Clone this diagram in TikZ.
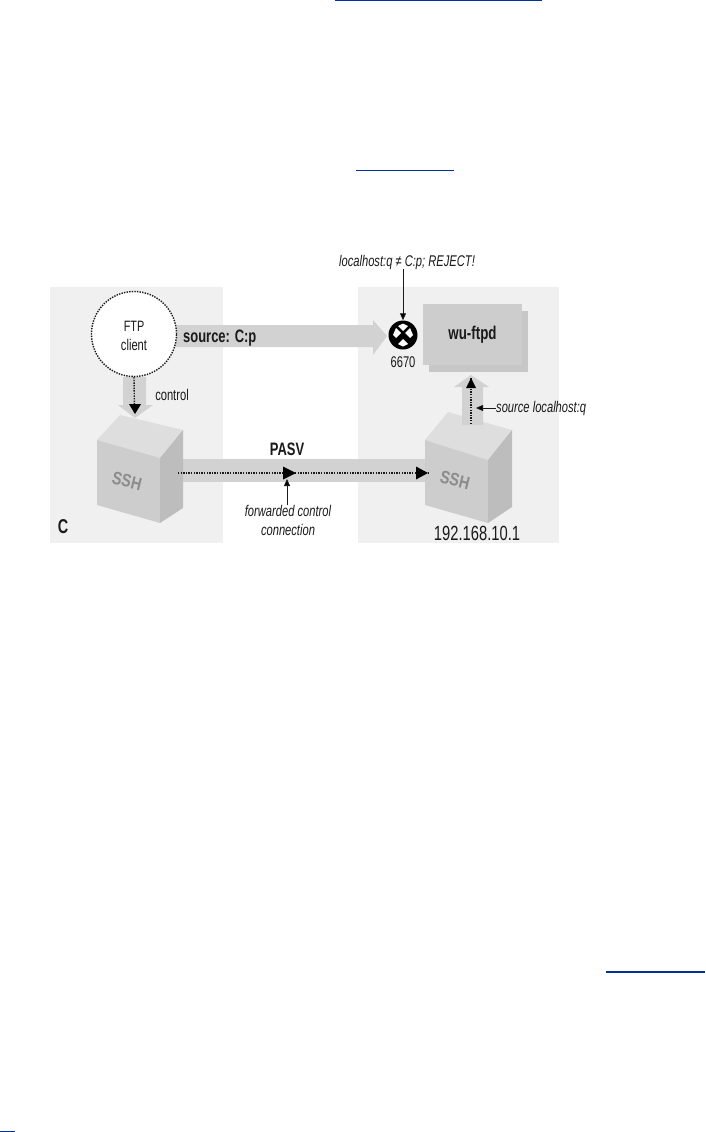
\documentclass[tikz,border=0pt]{standalone}
\usepackage{fontspec}
\setmainfont{Liberation Sans}[FakeStretch=0.72]
\newfontfamily\sshfont{Liberation Sans}
\usetikzlibrary{arrows.meta,calc}
\definecolor{panel}{HTML}{F0F0F0}
\definecolor{band}{HTML}{D2D2D2}
\definecolor{front}{HTML}{CDCDCD}
\definecolor{topf}{HTML}{DEDEDE}
\definecolor{rightf}{HTML}{BDBDBD}
\definecolor{link}{HTML}{003399}
\definecolor{ink}{HTML}{1A1A1A}
\tikzset{
  paneltone/.style={fill=panel,draw=none},
  bandtone/.style={fill=band,draw=none},
  lbl/.style={inner sep=0pt,text=ink,font=\fontsize{15.5}{16}\selectfont},
  lblit/.style={lbl,font=\fontsize{15.5}{16}\selectfont\itshape},
  lblbf/.style={lbl,font=\fontsize{18}{19}\selectfont\bfseries},
  dotline/.style={draw=ink,line width=1.4pt,dash pattern=on 1.4pt off 1.2pt},
  thin arrow/.style={draw=ink,line width=0.8pt,-{Triangle[length=7pt,width=6pt,fill=black]}},
  ssht/.style={inner sep=0pt,text=black!45,font=\sshfont\fontsize{18}{19}\selectfont\bfseries},
  linkrule/.style={draw=link,line width=1.3pt}
}
\newcommand{\slopedssh}{\rotatebox{-14}{\scalebox{0.8}[1]{SSH}}}
\begin{document}
\begin{tikzpicture}[x=1pt,y=-1pt]
\useasboundingbox (0,0) rectangle (705,1132);
\fill[white] (0,0) rectangle (705,1132);
% underlines of the surrounding page
\draw[linkrule] (335,0.6) -- (542,0.6);
\draw[linkrule] (356,170.5) -- (454,170.5);
\draw[linkrule] (606,972) -- (705,972);
\draw[linkrule] (0,1131.3) -- (15,1131.3);
% panels
\fill[paneltone] (50,287) rectangle (223,543);
\fill[paneltone] (358,287) rectangle (559,543);
% wide arrows behind the cubes
\fill[bandtone] (170,325) -- (373,325) -- (373,320) -- (387,336) -- (373,355) -- (373,347) -- (170,347) -- cycle;
\fill[bandtone] (175,459) rectangle (430,482);
% cubes
\fill[topf] (97,440) -- (120,415) -- (183,430) -- (160,458) -- cycle;
\fill[front] (97,440) -- (160,458) -- (160,523) -- (97,505) -- cycle;
\fill[rightf] (160,458) -- (183,430) -- (183,508) -- (160,523) -- cycle;
\fill[topf] (425,440) -- (448,412) -- (512,430) -- (488,460) -- cycle;
\fill[front] (425,440) -- (488,460) -- (488,523) -- (425,505) -- cycle;
\fill[rightf] (488,460) -- (512,430) -- (512,507) -- (488,523) -- cycle;
% wide arrows over the cubes
\fill[bandtone] (123,377) -- (146,377) -- (146,405) -- (153,405) -- (135,418) -- (118,405) -- (123,405) -- cycle;
\fill[bandtone] (462,425) -- (462,387) -- (454,387) -- (471,375) -- (489,387) -- (483,387) -- (483,425) -- cycle;
% wu-ftpd box
\fill[rightf!85!white] (429,311) rectangle (528,372);
\node[draw=none,fill=front,minimum width=99pt,minimum height=61pt,inner sep=0pt,text=ink,font=\fontsize{18.5}{19}\selectfont\bfseries] (wu) at (472.5,334.5) {wu-ftpd};
% client
\node[circle,fill=white,draw=ink,line width=1.4pt,dash pattern=on 1.4pt off 1.2pt,minimum size=85pt,inner sep=0pt] (ftp) at (134,334) {};
\node[lbl,font=\fontsize{15}{16}\selectfont] (ftpl) at (134,326) {FTP};
\node[lbl] (clientl) at (134,345) {client};
% port
\node[circle,fill=black,minimum size=29pt,inner sep=0pt] (port) at (403,335) {};
\fill[white] (396,328) -- (401,333) -- (396,338) -- (393,335) -- cycle;
\fill[white] (410,328) -- (405,333) -- (410,338) -- (413,335) -- cycle;
\fill[white] (398,326) -- (403,331) -- (408,326) -- (403,323.5) -- cycle;
\fill[white] (398,344) -- (403,339) -- (408,344) -- (403,346.5) -- cycle;
\node[lbl] (p6670) at (403,362) {6670};
% SSH labels and anchors
\node[ssht] (ssha) at (127,481) {\slopedssh};
\node[ssht] (sshb) at (455,480) {\slopedssh};
\coordinate (sshae) at (178,473);
\coordinate (sshbw) at (428,473);
\coordinate (up) at (471,378);
\coordinate (upb) at (471,424);
\coordinate (ctl) at (134.5,413);
% dotted connectors
\draw[dotline] (ftp.south) -- (ctl);
\fill[black] (129,404) -- (141,404) -- (135,414) -- cycle;
\draw[dotline] (sshae) -- (sshbw);
\fill[black] (283,466.5) -- (296,473) -- (283,479.5) -- cycle;
\fill[black] (416,466.5) -- (428,473) -- (416,479.5) -- cycle;
\draw[dotline] (upb) -- (up);
\fill[black] (466,388) -- (476,388) -- (471,378) -- cycle;
% labels
\node[lblit] (rej) at (407,262) {localhost:q ≠ C:p; REJECT!};
\draw[thin arrow] (rej.south -| port) -- (port.north);
\node[lblbf,anchor=west] (src) at (183,338) {source: C:p};
\node[lbl] (ctrl) at (172,395) {control};
\node[lblbf] (pasv) at (287,449) {PASV};
\node[lblit] (fwd1) at (288,511) {forwarded control};
\node[lblit] (fwd2) at (288,530) {connection};
\draw[thin arrow] (fwd1.north -| 287,0) -- (287,479);
\node[lblit,anchor=west] (srcq) at (496,408) {source localhost:q};
\draw[thin arrow] (srcq.west) -- (476,408);
\node[lbl,font=\fontsize{20.5}{21}\selectfont] (ip) at (477,533) {192.168.10.1};
\node[lbl,font=\fontsize{20}{21}\selectfont\bfseries] (c) at (63,527) {C};
\end{tikzpicture}
\end{document}
